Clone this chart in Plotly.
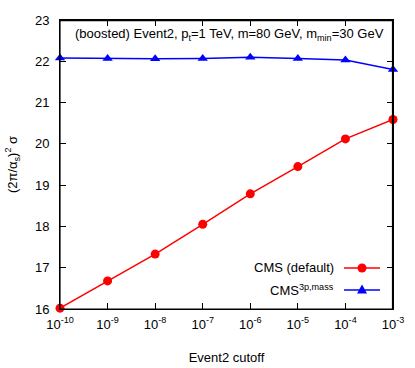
import plotly.graph_objects as go

cutoffs = [1e-10, 1e-9, 1e-8, 1e-7, 1e-6, 1e-5, 1e-4, 1e-3]
cms_default = [16.02, 16.68, 17.33, 18.05, 18.79, 19.45, 20.12, 20.59]
cms_3p_mass = [22.08, 22.07, 22.06, 22.07, 22.10, 22.07, 22.03, 21.80]
tick_vals = [1e-10, 1e-9, 1e-8, 1e-7, 1e-6, 1e-5, 1e-4, 1e-3]
tick_text = ["10<sup>-10</sup>", "10<sup>-9</sup>", "10<sup>-8</sup>", "10<sup>-7</sup>",
             "10<sup>-6</sup>", "10<sup>-5</sup>", "10<sup>-4</sup>", "10<sup>-3</sup>"]
series_names = ["CMS (default)", "CMS<sup>3p,mass</sup>"]
colors = ["#ff0000", "#0000ff"]
symbols = ["circle", "triangle-up"]

FS = 13
minor_vals = [m * d for d in tick_vals[:-1] for m in range(2, 10)]

fig = go.Figure()
for vals, name, col, sym in zip([cms_default, cms_3p_mass], series_names, colors, symbols):
    fig.add_trace(go.Scatter(x=cutoffs, y=vals, mode="lines+markers", name=name,
                             line=dict(color=col, width=1.5),
                             marker=dict(color=col, symbol=sym, size=9),
                             cliponaxis=False, showlegend=False))

leg_y = [0.142, 0.066]
mx = 0.907
for ly, name, col, sym in zip(leg_y, series_names, colors, symbols):
    fig.add_shape(type="line", xref="paper", yref="paper", x0=0.853, x1=0.961, y0=ly, y1=ly,
                  line=dict(color=col, width=1.5))
    if sym == "circle":
        fig.add_shape(type="circle", xref="paper", yref="paper",
                      xsizemode="pixel", ysizemode="pixel", xanchor=mx, yanchor=ly,
                      x0=-4.5, x1=4.5, y0=-4.5, y1=4.5, fillcolor=col, line=dict(color=col, width=0))
    else:
        fig.add_shape(type="path", xref="paper", yref="paper",
                      xsizemode="pixel", ysizemode="pixel", xanchor=mx, yanchor=ly,
                      path="M -5,-3.5 L 5,-3.5 L 0,5.5 Z", fillcolor=col, line=dict(color=col, width=0))
    fig.add_annotation(x=0.829, y=ly, xref="paper", yref="paper", text=name, showarrow=False,
                       xanchor="right", yanchor="middle", font=dict(size=FS, color="black"))

fig.add_annotation(x=0.51, y=0.95, xref="paper", yref="paper",
                   text="(boosted) Event2, p<sub>t</sub>=1 TeV, m=80 GeV, m<sub>min</sub>=30 GeV",
                   showarrow=False, xanchor="center", yanchor="middle", font=dict(size=FS, color="black"))

fig.add_shape(type="rect", xref="paper", yref="paper", x0=0, x1=0.9985, y0=0, y1=0.998,
              line=dict(color="black", width=1.2), layer="above")

xrange_log = [-10.0002, -2.9998]
fig.update_layout(
    width=415, height=368, autosize=False,
    margin=dict(l=60, r=22, t=20, b=59, autoexpand=False),
    paper_bgcolor="white", plot_bgcolor="white",
    font=dict(family="Liberation Sans, Arial, sans-serif", size=FS, color="black"),
    xaxis=dict(type="log", range=xrange_log, tickvals=tick_vals, ticktext=tick_text,
               ticks="inside", ticklen=6, tickcolor="black", showline=True, linecolor="black",
               linewidth=1, mirror="ticks", showgrid=False, zeroline=False, ticklabelstandoff=3,
               automargin=False,
               title=dict(text="Event2 cutoff", standoff=22, font=dict(size=FS))),
    xaxis2=dict(type="log", range=xrange_log, overlaying="x", anchor="y", side="bottom",
                tickvals=minor_vals, showticklabels=False, ticks="inside", ticklen=3,
                tickcolor="black", showline=False, mirror="ticks", showgrid=False,
                zeroline=False, automargin=False),
    yaxis=dict(range=[16, 23], dtick=1, ticks="inside", ticklen=6, tickcolor="black",
               showline=True, linecolor="black", linewidth=1, mirror="ticks",
               showgrid=False, zeroline=False, ticklabelstandoff=7, automargin=False,
               title=dict(text="(2π/α<sub>s</sub>)<sup>2</sup> σ", standoff=14, font=dict(size=FS))),
)

fig.write_html("out.html", config={"displayModeBar": False, "responsive": False},
               post_script="document.body.style.margin='0';document.body.style.overflow='hidden';")
